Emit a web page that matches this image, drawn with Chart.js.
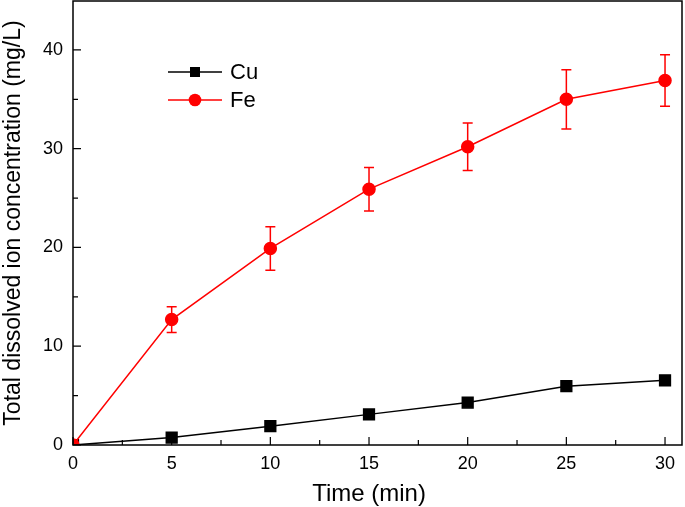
<!DOCTYPE html>
<html>
<head>
<meta charset="utf-8">
<script src="https://cdn.jsdelivr.net/npm/chart.js@4.4.1/dist/chart.umd.min.js"></script>
<style>
  html, body { margin: 0; padding: 0; background: #fff; }
  #wrap { width: 685px; height: 507px; position: relative; }
</style>
</head>
<body>
<div id="wrap"><canvas id="chart"></canvas></div>
<script>
'use strict';

// data
const times = [0, 5, 10, 15, 20, 25, 30];
const cuValues = [0, 0.75, 1.9, 3.1, 4.3, 5.95, 6.55];
const feValues = [0, 12.7, 19.9, 25.9, 30.2, 35.0, 36.9];
const feErrors = [0, 1.3, 2.2, 2.2, 2.4, 3.0, 2.6];
const xTickValues = [0, 5, 10, 15, 20, 25, 30];
const yTickValues = [0, 10, 20, 30, 40];
const xMinorTicks = [2.5, 7.5, 12.5, 17.5, 22.5, 27.5];
const yMinorTicks = [5, 15, 25, 35];
const seriesNames = ['Cu', 'Fe'];
const xTitle = 'Time (min)';
const yTitle = 'Total dissolved ion concentration (mg/L)';

const RED = '#ff0000';
const BLACK = '#000000';
const FONT = '"Liberation Sans", Arial, sans-serif';

function toPoints(values) {
  return times.map(function (t, i) { return { x: t, y: values[i] }; });
}

// error bars for Fe
const errorBars = {
  id: 'errorBars',
  afterDatasetsDraw: function (chart) {
    const ctx = chart.ctx;
    const xs = chart.scales.x;
    const ys = chart.scales.y;
    ctx.save();
    ctx.strokeStyle = RED;
    ctx.lineWidth = 1.5;
    times.forEach(function (t, i) {
      if (!feErrors[i]) return;
      const px = xs.getPixelForValue(t);
      const top = ys.getPixelForValue(feValues[i] + feErrors[i]);
      const bot = ys.getPixelForValue(feValues[i] - feErrors[i]);
      ctx.beginPath();
      ctx.moveTo(px, top); ctx.lineTo(px, bot);
      ctx.moveTo(px - 5, top); ctx.lineTo(px + 5, top);
      ctx.moveTo(px - 5, bot); ctx.lineTo(px + 5, bot);
      ctx.stroke();
    });
    ctx.restore();
  }
};

// frame, inward ticks, x title and legend
const frame = {
  id: 'frame',
  afterDraw: function (chart) {
    const ctx = chart.ctx;
    const a = chart.chartArea;
    const xs = chart.scales.x;
    const ys = chart.scales.y;
    ctx.save();
    ctx.strokeStyle = BLACK;
    ctx.lineWidth = 1.5;
    ctx.strokeRect(a.left, a.top, a.right - a.left, a.bottom - a.top);

    ctx.lineWidth = 1.2;
    ctx.beginPath();
    xTickValues.forEach(function (v) {
      const px = xs.getPixelForValue(v);
      ctx.moveTo(px, a.bottom); ctx.lineTo(px, a.bottom - 8);
    });
    xMinorTicks.forEach(function (v) {
      const px = xs.getPixelForValue(v);
      ctx.moveTo(px, a.bottom); ctx.lineTo(px, a.bottom - 5);
    });
    yTickValues.forEach(function (v) {
      const py = ys.getPixelForValue(v);
      ctx.moveTo(a.left, py); ctx.lineTo(a.left + 8, py);
    });
    yMinorTicks.forEach(function (v) {
      const py = ys.getPixelForValue(v);
      ctx.moveTo(a.left, py); ctx.lineTo(a.left + 5, py);
    });
    ctx.stroke();

    // x axis title, centred under the middle tick as in the figure
    ctx.fillStyle = BLACK;
    ctx.font = '24px ' + FONT;
    ctx.textAlign = 'center';
    ctx.textBaseline = 'alphabetic';
    ctx.fillText(xTitle, xs.getPixelForValue(15), 501);

    // legend
    const rows = [
      { name: seriesNames[0], color: BLACK, shape: 'rect', y: 72 },
      { name: seriesNames[1], color: RED, shape: 'circle', y: 100 }
    ];
    ctx.font = '22px ' + FONT;
    ctx.textAlign = 'left';
    ctx.textBaseline = 'middle';
    rows.forEach(function (r) {
      ctx.strokeStyle = r.color;
      ctx.fillStyle = r.color;
      ctx.lineWidth = 1.5;
      ctx.beginPath();
      ctx.moveTo(168, r.y); ctx.lineTo(222, r.y);
      ctx.stroke();
      if (r.shape === 'rect') {
        ctx.fillRect(190, r.y - 5, 10, 10);
      } else {
        ctx.beginPath();
        ctx.arc(195, r.y, 6.3, 0, Math.PI * 2);
        ctx.fill();
      }
      ctx.fillStyle = BLACK;
      ctx.fillText(r.name, 230, r.y + 1);
    });
    ctx.restore();
  }
};

const ctx = document.getElementById('chart').getContext('2d');
new Chart(ctx, {
  type: 'line',
  data: {
    datasets: [
      {
        label: seriesNames[0],
        data: toPoints(cuValues),
        borderColor: BLACK,
        backgroundColor: BLACK,
        borderWidth: 1.5,
        pointStyle: 'rect',
        pointRadius: 7.6,
        pointHoverRadius: 7.6,
        tension: 0,
        order: 1
      },
      {
        label: seriesNames[1],
        data: toPoints(feValues),
        borderColor: RED,
        backgroundColor: RED,
        borderWidth: 1.5,
        pointStyle: 'circle',
        pointRadius: 6,
        pointHoverRadius: 6,
        tension: 0,
        order: 0
      }
    ]
  },
  options: {
    responsive: true,
    maintainAspectRatio: false,
    animation: false,
    layout: { autoPadding: false, padding: { top: 1, right: 3, left: 0, bottom: 0 } },
    plugins: {
      legend: { display: false },
      tooltip: { enabled: false }
    },
    scales: {
      x: {
        type: 'linear',
        min: 0,
        max: 30.86,
        grid: { display: false, drawTicks: false },
        border: { display: false },
        afterBuildTicks: function (scale) {
          scale.ticks = xTickValues.map(function (v) { return { value: v }; });
        },
        afterFit: function (scale) {
          scale.height = 62;
          scale.paddingLeft = 0;
          scale.paddingRight = 0;
        },
        ticks: {
          color: BLACK,
          padding: 8,
          maxRotation: 0,
          font: { family: FONT, size: 18 }
        },
        title: { display: false }
      },
      y: {
        type: 'linear',
        min: 0,
        max: 44.95,
        grid: { display: false, drawTicks: false },
        border: { display: false },
        afterBuildTicks: function (scale) {
          scale.ticks = yTickValues.map(function (v) { return { value: v }; });
        },
        afterFit: function (scale) {
          scale.width = 73;
          scale.paddingTop = 0;
          scale.paddingBottom = 0;
        },
        ticks: {
          color: BLACK,
          padding: 10,
          font: { family: FONT, size: 18 }
        },
        title: {
          display: true,
          text: yTitle,
          color: BLACK,
          padding: { top: 0, bottom: 0 },
          font: { family: FONT, size: 23 }
        }
      }
    }
  },
  plugins: [errorBars, frame]
});
</script>
</body>
</html>
